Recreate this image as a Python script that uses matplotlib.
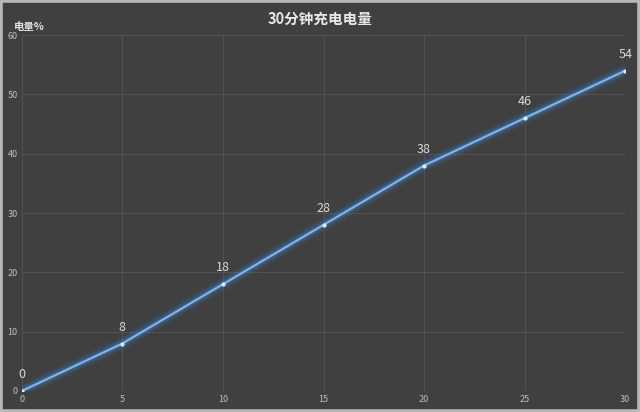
import matplotlib.pyplot as plt

plt.rcParams['font.family'] = ['Noto Sans CJK SC', 'DejaVu Sans']

# data
minutes = [0, 5, 10, 15, 20, 25, 30]
charge = [0, 8, 18, 28, 38, 46, 54]

fig = plt.figure(figsize=(6.4, 4.12), dpi=100, facecolor="#404040")
fig.patches.append(plt.Rectangle((0, 0), 1, 1, transform=fig.transFigure,
                                 fill=False, edgecolor="#b8b8b8", linewidth=4))
ax = fig.add_axes([0.034, 0.051, 0.943, 0.864])
ax.set_facecolor("#404040")

# glow around the line
for lw, a in [(10, 0.07), (7, 0.13), (4.5, 0.25)]:
    ax.plot(minutes, charge, color="#3d85d8", linewidth=lw, alpha=a,
            solid_capstyle="round")
ax.plot(minutes, charge, color="#7cb4ec", linewidth=1.6,
        marker="o", markersize=2, markerfacecolor="#d8ecff",
        markeredgecolor="#d8ecff")

for x, y in zip(minutes, charge):
    ax.annotate(str(y), (x, y), xytext=(0, 7), textcoords="offset points",
                ha="center", va="bottom", color="#d9d9d9", fontsize=9)

ax.set_xlim(0, 30)
ax.set_ylim(0, 60)
ax.set_xticks(range(0, 31, 5))
ax.set_yticks(range(0, 61, 10))
ax.grid(True, color="#515151", linewidth=0.8)
for s in ax.spines.values():
    s.set_visible(False)
ax.tick_params(colors="#bfbfbf", labelsize=6.5, length=0, pad=3)

fig.text(0.5, 0.955, "30分钟充电电量", ha="center", va="center",
         color="#e8e8e8", fontsize=10.5, fontweight="bold")
fig.text(0.022, 0.935, "电量%", ha="left", va="center", color="#e0e0e0",
         fontsize=7.5, fontweight="bold")

fig.savefig("out.png", dpi=100, facecolor=fig.get_facecolor())
